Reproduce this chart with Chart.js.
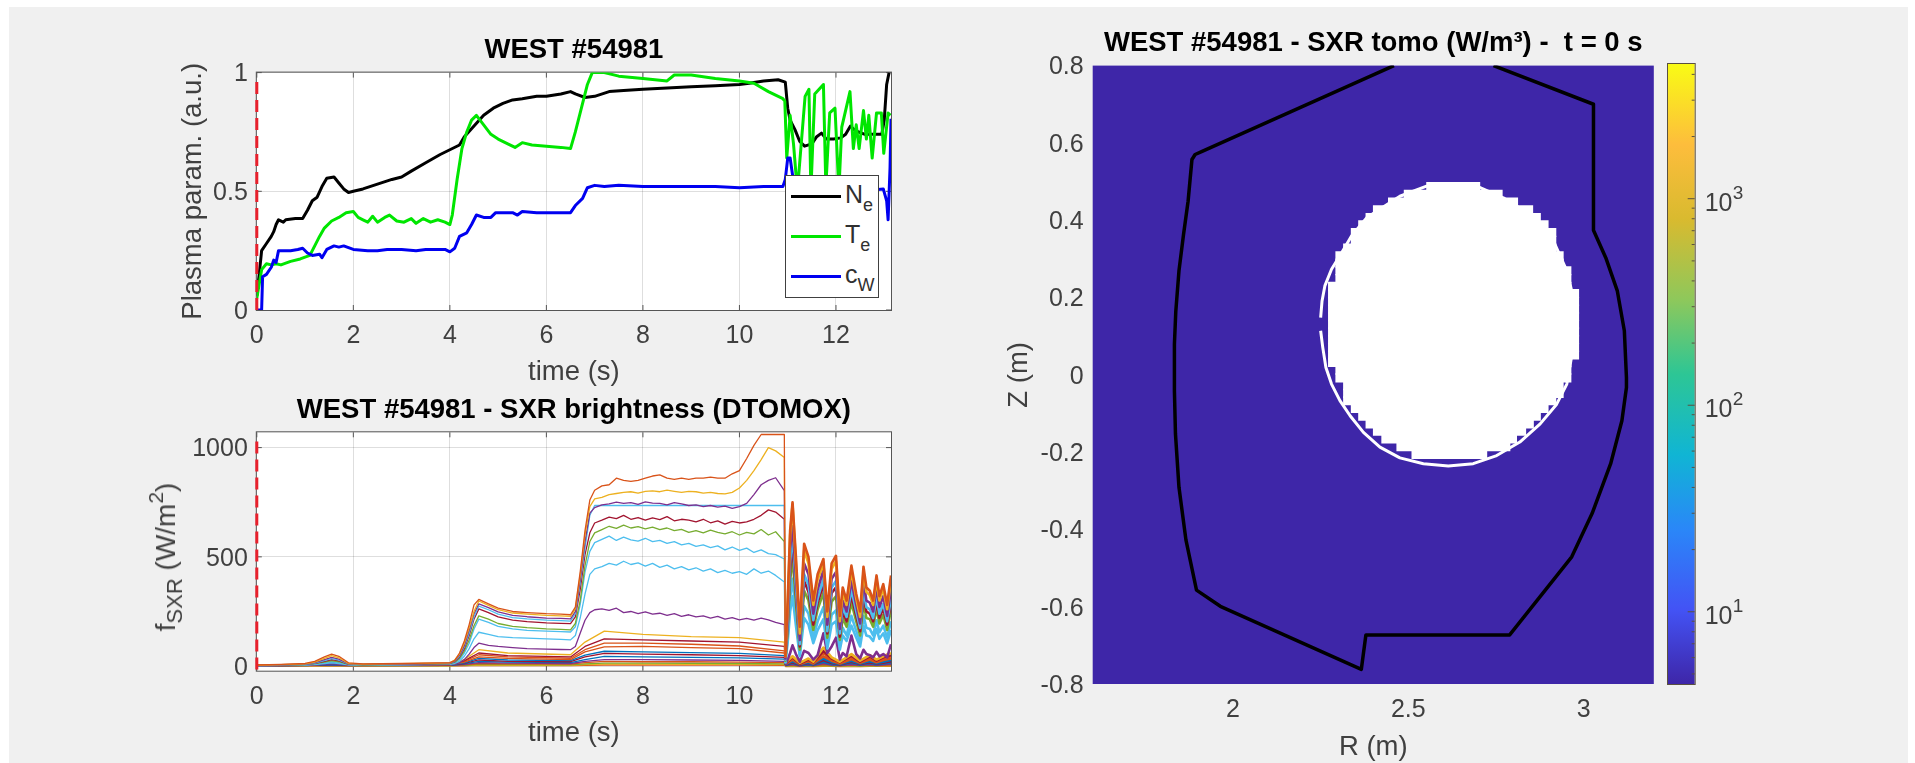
<!DOCTYPE html>
<html>
<head>
<meta charset="utf-8">
<title>WEST #54981</title>
<script src="https://cdn.jsdelivr.net/npm/chart.js@4"></script>
<style>
    html, body { margin: 0; padding: 0; background: #fff; overflow: hidden; }
    #figure { position: absolute; left: 9px; top: 7px; width: 1899px; height: 756px; background: #f0f0f0; }
    canvas { position: absolute; }
    #legend { position: absolute; left: 785px; top: 175px; width: 92px; height: 121px; background: #fff; border: 1px solid #404040;
              font: 25px "Liberation Sans", sans-serif; color: #303030; }
    #legend .swatch { position: absolute; left: 5px; width: 50px; height: 3px; }
    #legend .name { position: absolute; left: 59px; line-height: 28px; white-space: nowrap; }
    #legend sub { font-size: 18px; line-height: 0; vertical-align: -8px; }
    #sxrLabel { position: absolute; left: 166px; top: 557px; transform: translate(-50%, -50%) rotate(-90deg); white-space: nowrap;
                font: 28px "Liberation Sans", sans-serif; color: #404040; }
    #sxrLabel sub { font-size: 22px; line-height: 0; vertical-align: -7px; }
    #sxrLabel sup { font-size: 21px; line-height: 0; vertical-align: 12px; }
</style>
</head>
<body>
<div id="figure"></div>
<canvas id="paramChart" width="733" height="355" style="left:177px;top:34px"></canvas>
<canvas id="sxrChart" width="733" height="356" style="left:177px;top:394px"></canvas>
<canvas id="tomoChart" width="657" height="737" style="left:1003px;top:27px"></canvas>
<canvas id="colorbarChart" width="130" height="680" style="left:1660px;top:34px"></canvas>
<div id="legend"></div>
<div id="sxrLabel">f<sub>SXR</sub> (W/m<sup>2</sup>)</div>

<script>
// Tick labels
const timeTicks = [0, 2, 4, 6, 8, 10, 12];
const paramTicks = [0, 0.5, 1];
const sxrTicks = [0, 500, 1000];
const rTicks = [2, 2.5, 3];
const zTicks = [-0.8, -0.6, -0.4, -0.2, 0, 0.2, 0.4, 0.6, 0.8];
const colorbarTicks = [5, 6, 7, 8, 9, 10, 20, 30, 40, 50, 60, 70, 80, 90, 100, 200, 300, 400, 500, 600, 700, 800, 900, 1000, 2000, 3000, 4000];
const colorbarExponents = { 10: '1', 100: '2', 1000: '3' };

// Plasma parameters (a.u.)
const neTime = [0, 0.05, 0.1, 0.2, 0.3, 0.35, 0.4, 0.45, 0.55, 0.6, 0.8, 0.95, 1.05, 1.15, 1.25, 1.35, 1.45, 1.6, 1.7, 1.8, 1.9, 2, 2.2, 2.5, 2.8, 3, 3.2, 3.5, 3.8, 4, 4.2, 4.3, 4.5, 4.7, 4.9, 5.1, 5.3, 5.5, 5.8, 6, 6.3, 6.5, 6.6, 6.8, 7, 7.3, 7.6, 8, 8.5, 9, 9.5, 10, 10.2, 10.5, 10.8, 10.95, 11, 11.05, 11.15, 11.25, 11.35, 11.5, 11.6, 11.7, 11.8, 11.95, 12.1, 12.2, 12.3, 12.4, 12.6, 12.8, 12.95, 13, 13.05, 13.1];
const neValues = [0.06, 0.15, 0.25, 0.28, 0.31, 0.33, 0.36, 0.38, 0.37, 0.38, 0.385, 0.385, 0.42, 0.46, 0.475, 0.52, 0.555, 0.56, 0.535, 0.51, 0.495, 0.5, 0.51, 0.53, 0.55, 0.56, 0.585, 0.62, 0.655, 0.675, 0.695, 0.73, 0.775, 0.82, 0.85, 0.87, 0.885, 0.89, 0.9, 0.9, 0.91, 0.92, 0.91, 0.895, 0.9, 0.92, 0.925, 0.93, 0.935, 0.94, 0.945, 0.95, 0.955, 0.965, 0.97, 0.96, 0.85, 0.8, 0.76, 0.71, 0.69, 0.7, 0.73, 0.745, 0.72, 0.72, 0.725, 0.74, 0.775, 0.755, 0.74, 0.74, 0.74, 0.8, 0.95, 1];
const teTime = [0, 0.1, 0.2, 0.3, 0.4, 0.5, 0.7, 0.9, 1.1, 1.2, 1.3, 1.4, 1.55, 1.7, 1.85, 2, 2.1, 2.2, 2.3, 2.4, 2.5, 2.65, 2.75, 2.9, 3.05, 3.2, 3.3, 3.45, 3.6, 3.75, 3.9, 4, 4.05, 4.15, 4.25, 4.35, 4.45, 4.55, 4.7, 4.85, 5, 5.2, 5.35, 5.5, 5.7, 6, 6.3, 6.5, 6.6, 6.75, 6.85, 6.95, 7.2, 7.5, 8, 8.5, 8.65, 9, 9.5, 10, 10.3, 10.6, 10.9, 10.94, 10.98, 11.05, 11.12, 11.2, 11.36, 11.44, 11.48, 11.56, 11.74, 11.79, 11.87, 11.98, 12.06, 12.12, 12.29, 12.36, 12.42, 12.48, 12.57, 12.63, 12.68, 12.75, 12.84, 12.94, 12.99, 13.08, 13.13];
const teValues = [0.05, 0.17, 0.195, 0.19, 0.195, 0.19, 0.205, 0.215, 0.23, 0.27, 0.31, 0.345, 0.375, 0.39, 0.41, 0.415, 0.39, 0.38, 0.37, 0.395, 0.37, 0.39, 0.4, 0.375, 0.37, 0.385, 0.365, 0.385, 0.37, 0.38, 0.37, 0.36, 0.4, 0.55, 0.68, 0.75, 0.8, 0.82, 0.78, 0.74, 0.72, 0.7, 0.685, 0.705, 0.695, 0.69, 0.685, 0.68, 0.75, 0.87, 0.95, 1, 1, 0.985, 0.975, 0.965, 0.99, 0.99, 0.975, 0.965, 0.955, 0.92, 0.89, 0.88, 0.64, 0.82, 0.7, 0.5, 0.9, 0.93, 0.5, 0.91, 0.95, 0.52, 0.83, 0.85, 0.5, 0.77, 0.92, 0.68, 0.78, 0.68, 0.84, 0.72, 0.82, 0.64, 0.83, 0.83, 0.66, 0.83, 0.82];
const cwTime = [0, 0.05, 0.1, 0.12, 0.2, 0.3, 0.35, 0.4, 0.45, 0.55, 0.7, 0.85, 0.95, 1.05, 1.15, 1.3, 1.35, 1.45, 1.6, 1.7, 1.8, 2, 2.3, 2.5, 2.7, 3, 3.3, 3.5, 3.9, 4, 4.1, 4.2, 4.35, 4.45, 4.55, 4.7, 4.85, 4.95, 5.3, 5.4, 5.5, 5.8, 6.2, 6.5, 6.6, 6.75, 6.85, 7, 7.2, 7.5, 8, 8.5, 9, 9.5, 10, 10.5, 10.9, 10.95, 11, 11.05, 11.12, 11.5, 12.5, 12.98, 13.05, 13.08, 13.12, 13.14];
const cwValues = [0, 0, 0, 0.14, 0.15, 0.18, 0.21, 0.2, 0.25, 0.25, 0.25, 0.255, 0.26, 0.24, 0.23, 0.235, 0.22, 0.255, 0.27, 0.265, 0.27, 0.255, 0.25, 0.25, 0.255, 0.255, 0.25, 0.255, 0.255, 0.245, 0.26, 0.31, 0.325, 0.36, 0.4, 0.39, 0.39, 0.41, 0.41, 0.4, 0.415, 0.41, 0.41, 0.41, 0.44, 0.47, 0.515, 0.525, 0.52, 0.525, 0.52, 0.52, 0.52, 0.52, 0.515, 0.52, 0.52, 0.55, 0.64, 0.64, 0.54, 0.5, 0.5, 0.51, 0.46, 0.38, 0.6, 0.806];
const markerTime = [0, 0];
const markerParam = [0, 0.975];
const markerSxr = [-15, 1040];

// SXR brightness channels, upper group, sampled on sxrTime
const sxrTime = [0, 0.5, 1, 1.2, 1.4, 1.55, 1.7, 1.9, 2.2, 3, 3.5, 4, 4.1, 4.2, 4.3, 4.4, 4.5, 4.6,
    4.8, 5, 5.3, 5.6, 6, 6.3, 6.5, 6.6, 6.7, 6.8, 6.9, 7,
    7.15, 7.3, 7.45, 7.6, 7.75, 7.9, 8.05, 8.2, 8.35, 8.5, 8.65, 8.8, 8.95, 9.1, 9.25, 9.4, 9.55, 9.7, 9.85, 10, 10.15, 10.3, 10.45, 10.6, 10.75, 10.93,
    10.95, 11, 11.05, 11.1, 11.17, 11.25, 11.34, 11.43, 11.53, 11.62, 11.74, 11.82, 11.91, 12, 12.08, 12.14, 12.22, 12.32, 12.42, 12.5, 12.57, 12.63, 12.7, 12.77, 12.84, 12.9, 12.98, 13.06, 13.14];
const sxrA = [5, 8, 12, 22, 42, 55, 45, 15, 10, 12, 14, 16, 25, 60, 115, 190, 280, 305,
    285, 265, 250, 245, 240, 238, 235, 270, 430, 620, 760, 805,
    825, 830, 860, 850, 845, 850, 860, 870, 875, 860, 855, 860, 855, 860, 860, 865, 860, 860, 880, 895, 950, 1010, 1060, 1060, 1060, 1060,
    40, 300, 620, 750, 500, 180, 560, 500, 300, 420, 490, 250, 470, 505, 230, 360, 300, 460, 330, 250, 455, 360, 345, 300, 415, 320, 375, 280, 415];
const sxrB = [4, 7, 10, 18, 35, 48, 38, 12, 9, 11, 13, 15, 28, 55, 105, 175, 250, 298,
    278, 258, 243, 238, 232, 230, 228, 262, 415, 600, 730, 765,
    772, 785, 790, 795, 798, 792, 800, 802, 798, 805, 800, 795, 800, 798, 792, 795, 790, 788, 795, 815, 850, 895, 945, 1000, 985, 955,
    40, 280, 600, 740, 470, 150, 530, 470, 280, 395, 470, 225, 445, 480, 205, 335, 280, 435, 310, 225, 430, 340, 325, 280, 395, 300, 355, 260, 395];
const sxrC = [4, 7, 9, 16, 30, 40, 32, 11, 8, 10, 12, 14, 25, 50, 95, 165, 240, 285,
    268, 248, 232, 226, 220, 218, 216, 250, 395, 570, 700, 725,
    738, 742, 750, 745, 748, 740, 752, 746, 745, 738, 748, 742, 735, 738, 730, 735, 728, 732, 722, 730, 745, 785, 830, 850, 862, 803,
    30, 240, 540, 640, 410, 120, 470, 420, 240, 350, 440, 190, 400, 430, 170, 300, 250, 390, 280, 195, 390, 300, 290, 250, 360, 270, 320, 230, 350];
const sxrD = [3, 6, 8, 14, 25, 34, 27, 10, 8, 9, 11, 13, 22, 46, 88, 150, 225, 275,
    258, 238, 222, 216, 210, 208, 206, 240, 380, 540, 690, 735,
    735, 735, 735, 735, 735, 735, 735, 735, 735, 735, 735, 735, 735, 735, 735, 735, 735, 735, 735, 735, 735, 735, 735, 735, 735, 735,
    25, 210, 480, 600, 360, 100, 420, 370, 210, 310, 400, 160, 360, 390, 150, 270, 225, 350, 250, 175, 350, 270, 260, 220, 320, 240, 285, 205, 310];
const sxrE = [3, 5, 8, 13, 22, 30, 24, 9, 7, 9, 10, 12, 20, 42, 80, 140, 215, 262,
    245, 225, 210, 204, 198, 196, 194, 225, 350, 510, 610, 655,
    668, 682, 675, 690, 672, 680, 668, 678, 670, 684, 665, 672, 668, 660, 672, 656, 665, 650, 662, 655, 660, 672, 690, 715, 705, 672,
    25, 190, 440, 560, 330, 90, 390, 340, 190, 290, 375, 150, 335, 360, 135, 250, 205, 325, 230, 160, 325, 250, 240, 205, 295, 220, 265, 190, 290];
const sxrF = [3, 5, 7, 11, 18, 25, 20, 8, 6, 8, 9, 11, 18, 36, 70, 120, 185, 230,
    215, 195, 182, 176, 170, 168, 166, 195, 300, 460, 570, 610,
    625, 640, 630, 645, 632, 638, 628, 636, 625, 632, 620, 626, 612, 620, 610, 622, 612, 605, 615, 600, 612, 605, 625, 600, 615, 570,
    20, 170, 390, 500, 290, 75, 345, 300, 165, 260, 335, 130, 295, 320, 120, 220, 180, 290, 205, 140, 290, 220, 215, 180, 265, 195, 235, 165, 260];
const sxrG = [2, 4, 6, 9, 15, 20, 16, 7, 5, 7, 8, 10, 15, 30, 60, 105, 170, 215,
    200, 182, 170, 164, 160, 158, 156, 180, 280, 430, 525, 565,
    580, 595, 575, 590, 578, 572, 585, 570, 575, 562, 570, 555, 562, 548, 555, 542, 550, 532, 545, 530, 540, 520, 532, 515, 510, 490,
    15, 140, 310, 400, 230, 55, 275, 240, 130, 205, 270, 100, 235, 255, 90, 175, 140, 230, 160, 110, 230, 175, 170, 140, 210, 155, 185, 130, 205];
const sxrH = [2, 3, 5, 7, 12, 15, 12, 6, 4, 6, 7, 8, 12, 22, 45, 80, 125, 155,
    145, 135, 130, 128, 125, 122, 120, 140, 220, 330, 420, 445,
    455, 470, 462, 480, 465, 472, 458, 470, 452, 462, 445, 455, 440, 450, 435, 445, 428, 438, 425, 432, 420, 445, 425, 435, 415, 385,
    12, 110, 250, 320, 185, 45, 220, 190, 105, 165, 215, 80, 190, 205, 75, 140, 115, 185, 130, 90, 185, 140, 135, 115, 170, 125, 150, 105, 165];
const sxrI = [1, 3, 4, 6, 9, 12, 9, 5, 3, 5, 6, 7, 10, 15, 30, 55, 85, 105,
    95, 90, 85, 80, 78, 76, 75, 90, 150, 210, 245, 258,
    262, 255, 265, 245, 250, 240, 248, 238, 242, 232, 240, 228, 235, 225, 230, 220, 228, 215, 222, 212, 218, 210, 220, 212, 200, 190,
    8, 30, 60, 95, 55, 20, 70, 60, 30, 50, 150, 60, 90, 130, 30, 60, 45, 140, 55, 35, 75, 55, 50, 40, 65, 45, 55, 40, 100];

// SXR brightness channels, lower group, sampled on sxrLowTime
const sxrLowTime = [0, 1.2, 1.55, 1.9, 4, 4.3, 4.6, 5.2, 6.5, 6.8, 7.2, 8, 9, 10, 10.93, 10.95, 11.1, 11.25, 11.43, 11.53, 11.74, 11.91, 12.08, 12.32, 12.5, 12.7, 12.84, 12.98, 13.14];
const sxrJ = [3, 8, 25, 6, 8, 30, 75, 60, 52, 110, 160, 145, 135, 130, 110, 15, 45, 15, 35, 20, 85, 40, 20, 55, 25, 50, 30, 45, 60];
const sxrK = [3, 6, 20, 5, 7, 25, 60, 48, 42, 90, 125, 120, 115, 110, 90, 12, 40, 12, 30, 18, 70, 35, 18, 48, 20, 45, 25, 40, 50];
const sxrL = [3, 6, 18, 5, 6, 22, 52, 42, 36, 75, 105, 105, 100, 92, 70, 10, 40, 12, 28, 15, 60, 30, 15, 42, 20, 40, 22, 35, 45];
const sxrM = [2, 5, 15, 4, 6, 18, 42, 35, 30, 65, 88, 90, 85, 80, 60, 9, 30, 10, 22, 12, 45, 25, 12, 32, 15, 30, 18, 28, 35];
const sxrN = [2, 4, 10, 4, 5, 15, 35, 28, 25, 50, 68, 65, 62, 58, 48, 8, 22, 8, 18, 10, 35, 18, 10, 25, 12, 22, 14, 20, 28];
const sxrO = [2, 4, 8, 3, 5, 12, 28, 22, 20, 42, 58, 55, 52, 48, 40, 7, 18, 6, 14, 8, 28, 14, 8, 20, 10, 18, 12, 16, 22];
const sxrP = [2, 3, 6, 3, 4, 10, 22, 18, 16, 30, 45, 42, 40, 38, 32, 6, 14, 5, 10, 6, 20, 10, 6, 15, 8, 14, 9, 12, 18];
const sxrQ = [1, 3, 5, 2, 4, 8, 16, 14, 12, 22, 30, 30, 28, 26, 22, 5, 10, 4, 8, 5, 14, 8, 5, 10, 6, 10, 7, 9, 12];
const sxrR = [1, 2, 4, 2, 3, 6, 12, 10, 9, 16, 22, 20, 20, 18, 16, 4, 8, 3, 6, 4, 10, 6, 4, 8, 5, 8, 5, 7, 9];
const sxrS = [1, 2, 3, 1, 2, 4, 8, 7, 6, 10, 14, 14, 13, 12, 10, 3, 5, 2, 4, 3, 7, 4, 3, 5, 3, 5, 4, 5, 6];
const sxrT = [0, 1, 2, 1, 1, 3, 5, 4, 4, 7, 9, 9, 8, 8, 7, 2, 3, 2, 3, 2, 4, 3, 2, 3, 2, 3, 3, 3, 4];
const sxrU = [0, 1, 1, 0, 1, 1, 3, 2, 2, 4, 5, 5, 5, 5, 4, 1, 2, 1, 2, 1, 2, 2, 1, 2, 1, 2, 2, 2, 2];

// Tomography: first wall, last closed surface, and the rows of empty (NaN) cells
const wallR = [2.459, 1.912, 1.892, 1.883, 1.872, 1.859, 1.846, 1.837, 1.833, 1.833, 1.836, 1.846, 1.866, 1.896, 1.964, 2.366, 2.379, 2.789, 2.966, 3.024, 3.077, 3.109, 3.122, 3.122, 3.116, 3.096, 3.063, 3.028, 3.028, 2.743];
const wallZ = [0.8, 0.578, 0.57, 0.557, 0.449, 0.363, 0.269, 0.165, 0.079, -0.041, -0.153, -0.291, -0.428, -0.557, -0.599, -0.762, -0.673, -0.673, -0.471, -0.359, -0.23, -0.119, -0.033, -0.007, 0.114, 0.217, 0.303, 0.374, 0.7, 0.8];
const ringR = [2.25, 2.256, 2.265, 2.281, 2.305, 2.334, 2.372, 2.419, 2.476, 2.543, 2.614, 2.685, 2.752, 2.818, 2.876, 2.923, 2.952, 2.975, 2.975, 2.952, 2.914, 2.847, 2.771, 2.695, 2.619, 2.552, 2.476, 2.381, 2.338, 2.31, 2.281, 2.262, 2.254, 2.25];
const ringZ = [0.114, 0.071, 0.019, -0.024, -0.067, -0.106, -0.149, -0.187, -0.215, -0.23, -0.236, -0.23, -0.209, -0.174, -0.127, -0.076, -0.024, 0.096, 0.183, 0.269, 0.346, 0.415, 0.458, 0.488, 0.492, 0.488, 0.462, 0.406, 0.359, 0.316, 0.273, 0.23, 0.191, 0.148];
const rowZ = [0.487, 0.467, 0.447, 0.427, 0.407, 0.388, 0.368, 0.348, 0.328, 0.308, 0.289, 0.269, 0.249, 0.229, 0.21, 0.19, 0.17, 0.15, 0.13, 0.111, 0.091, 0.071, 0.051, 0.032, 0.012, -0.008, -0.028, -0.048, -0.067, -0.087, -0.107, -0.127, -0.146, -0.166, -0.186, -0.206];
const rowLeft = [2.552, 2.488, 2.443, 2.4, 2.379, 2.358, 2.337, 2.337, 2.315, 2.293, 2.293, 2.293, 2.293, 2.272, 2.272, 2.272, 2.272, 2.272, 2.272, 2.272, 2.272, 2.272, 2.272, 2.272, 2.293, 2.293, 2.315, 2.315, 2.315, 2.337, 2.358, 2.379, 2.4, 2.424, 2.467, 2.51];
const rowRight = [2.704, 2.768, 2.812, 2.855, 2.877, 2.899, 2.921, 2.921, 2.921, 2.942, 2.942, 2.964, 2.964, 2.964, 2.986, 2.986, 2.986, 2.986, 2.986, 2.986, 2.986, 2.986, 2.986, 2.964, 2.964, 2.964, 2.942, 2.942, 2.921, 2.899, 2.877, 2.857, 2.835, 2.809, 2.79, 2.724];
const colorRange = [4.47, 4490];

const FONT = '"Liberation Sans", sans-serif';
Chart.defaults.font.family = FONT;
Chart.defaults.color = '#404040';
Chart.defaults.animation = false;
Chart.defaults.responsive = false;

const xy = (xs, ys) => ys.map((y, i) => ({ x: xs[i], y: y }));

// Plot background and the Matlab style box with inward ticks
const axesBox = {
    id: 'axesBox',
    beforeDraw(chart, args, opts) {
        const a = chart.chartArea;
        chart.ctx.save();
        chart.ctx.fillStyle = opts.background || 'transparent';
        chart.ctx.fillRect(a.left, a.top, a.width, a.height);
        chart.ctx.restore();
    },
    beforeDatasetsDraw(chart, args, opts) {
        if (!opts.ticks) return;
        const a = chart.chartArea, ctx = chart.ctx;
        ctx.save();
        ctx.strokeStyle = opts.boxColor;
        ctx.lineWidth = 1;
        ctx.strokeRect(a.left - 0.5, a.top - 0.5, a.width + 1, a.height + 1);
        ctx.beginPath();
        chart.scales.x.ticks.forEach(t => {
            const p = chart.scales.x.getPixelForValue(t.value);
            ctx.moveTo(p, a.bottom); ctx.lineTo(p, a.bottom - 5);
            ctx.moveTo(p, a.top); ctx.lineTo(p, a.top + 5);
        });
        chart.scales.y.ticks.forEach(t => {
            const p = chart.scales.y.getPixelForValue(t.value);
            ctx.moveTo(a.left, p); ctx.lineTo(a.left + 5, p);
            ctx.moveTo(a.right, p); ctx.lineTo(a.right - 5, p);
        });
        ctx.stroke();
        ctx.restore();
    },
    afterDraw(chart, args, opts) {
        if (!opts.colorbar) return;
        const a = chart.chartArea, ctx = chart.ctx;
        ctx.save();
        ctx.strokeStyle = opts.boxColor;
        ctx.lineWidth = 1;
        ctx.strokeRect(a.left - 0.5, a.top - 0.5, a.width + 1, a.height + 1);
        ctx.beginPath();
        ctx.fillStyle = '#404040';
        ctx.font = '19px ' + FONT;
        ctx.textBaseline = 'middle';
        chart.scales.y.ticks.forEach(t => {
            const p = chart.scales.y.getPixelForValue(t.value);
            const exponent = colorbarExponents[t.value];
            ctx.moveTo(a.right, p);
            ctx.lineTo(a.right - (exponent ? 7 : 3), p);
            if (exponent) ctx.fillText(exponent, a.right + 38, p - 5);
        });
        ctx.stroke();
        ctx.restore();
    }
};
Chart.register(axesBox);

function timeAxis(height) {
    return {
        type: 'linear', min: 0, max: 13.14,
        afterBuildTicks: s => { s.ticks = timeTicks.map(v => ({ value: v })); },
        afterFit: s => { s.height = height; },
        grid: { color: 'rgba(0,0,0,0.13)', drawTicks: false },
        border: { display: false },
        ticks: { font: { size: 25 }, padding: 11, maxRotation: 0, autoSkip: false, callback: v => String(v) },
        title: { display: true, text: 'time (s)', font: { size: 27.5 }, padding: 0, color: '#404040' }
    };
}

function valueAxis(min, max, tickList, width, titleText) {
    return {
        type: 'linear', min: min, max: max,
        afterBuildTicks: s => { s.ticks = tickList.map(v => ({ value: v })); },
        afterFit: s => { s.width = width; },
        grid: { color: 'rgba(0,0,0,0.13)', drawTicks: false },
        border: { display: false },
        ticks: { font: { size: 25 }, padding: 9, labelOffset: 2, autoSkip: false, callback: v => String(v) },
        title: { display: !!titleText, text: titleText, font: { size: 27.5 }, padding: 0, color: '#404040' }
    };
}

function figureTitle(text, bottomPad) {
    return { display: true, fullSize: false, text: text, color: '#000', font: { size: 27.5, weight: 'bold' }, padding: { top: 0, bottom: bottomPad } };
}

const line = (label, data, color, width, order) => ({
    label: label, data: data, borderColor: color, backgroundColor: color, borderWidth: width,
    pointRadius: 0, tension: 0, order: order, borderJoinStyle: 'round'
});
const marker = ys => Object.assign(line('t', xy(markerTime, ys), '#e8202c', 3, 0), { borderDash: [12, 6], clip: false });

// Plasma parameters
const paramSeries = [
    { name: 'N<sub>e</sub>', time: neTime, values: neValues, color: '#000000' },
    { name: 'T<sub>e</sub>', time: teTime, values: teValues, color: '#00e600' },
    { name: 'c<sub>W</sub>', time: cwTime, values: cwValues, color: '#0000f0' }
];
new Chart(document.getElementById('paramChart'), {
    type: 'line',
    data: {
        datasets: [marker(markerParam)].concat(paramSeries.map((s, i) => line(s.name, xy(s.time, s.values), s.color, 3, 3 - i)))
    },
    options: {
        layout: { padding: { right: 19 } },
        scales: { x: timeAxis(79), y: valueAxis(0, 1, paramTicks, 79.8, 'Plasma param. (a.u.)') },
        plugins: {
            legend: { display: false }, tooltip: { enabled: false },
            title: figureTitle('WEST #54981', 5.6),
            axesBox: { background: '#fff', boxColor: '#555', ticks: true }
        }
    }
});

// Legend is html because the names have subscripts
const legendBox = document.getElementById('legend');
paramSeries.forEach((s, i) => {
    const top = 19 + i * 40;
    legendBox.innerHTML += `<div class="swatch" style="top:${top}px;background:${s.color}"></div>` +
        `<div class="name" style="top:${top - 15}px">${s.name}</div>`;
});

// SXR brightness, colours follow the Matlab line order
const sxrBlue = '#0072bd', sxrRed = '#d95319', sxrYellow = '#edb120', sxrPurple = '#7e2f8e', sxrGreen = '#77ac30', sxrCyan = '#4dbeee', sxrWine = '#a2142f';
const upperChannels = [
    [sxrA, sxrRed], [sxrB, sxrYellow], [sxrC, sxrPurple], [sxrD, sxrCyan], [sxrE, sxrWine],
    [sxrF, sxrGreen], [sxrG, sxrCyan], [sxrH, sxrCyan], [sxrI, sxrPurple]
];
const lowerChannels = [
    [sxrJ, sxrYellow], [sxrK, sxrWine], [sxrL, sxrRed], [sxrM, sxrRed], [sxrN, sxrBlue], [sxrO, sxrWine],
    [sxrP, sxrBlue], [sxrQ, sxrPurple], [sxrR, sxrRed], [sxrS, sxrGreen], [sxrT, sxrYellow], [sxrU, sxrRed]
];
// The traces look thicker after the collapse at 11 s
const sxrSegment = { borderWidth: ctx => (ctx.p0.parsed.x >= 10.95 ? 2.6 : 1.3) };
const sxrLine = (label, time, c, order) => Object.assign(line(label, xy(time, c[0]), c[1], 1.3, order), { segment: sxrSegment });
new Chart(document.getElementById('sxrChart'), {
    type: 'line',
    data: {
        datasets: [marker(markerSxr)]
            .concat(upperChannels.map((c, i) => sxrLine('ch' + i, sxrTime, c, i + 1)))
            .concat(lowerChannels.map((c, i) => sxrLine('low' + i, sxrLowTime, c, i + 20)))
    },
    options: {
        layout: { padding: { right: 19 } },
        scales: { x: timeAxis(79.3), y: valueAxis(-21, 1070, sxrTicks, 79.8, '') },
        plugins: {
            legend: { display: false }, tooltip: { enabled: false },
            title: figureTitle('WEST #54981 - SXR brightness (DTOMOX)', 5.3),
            axesBox: { background: '#fff', boxColor: '#555', ticks: true }
        }
    }
});

// Tomography map
new Chart(document.getElementById('tomoChart'), {
    type: 'bar',
    data: {
        datasets: [
            Object.assign(line('wall', xy(wallR, wallZ), '#000', 3.5, 0), { type: 'line' }),
            Object.assign(line('ring', xy(ringR, ringZ), '#fff', 3, 1), { type: 'line' }),
            {
                type: 'bar', indexAxis: 'y', label: 'empty cells', order: 2,
                data: rowZ.map((z, i) => ({ y: z, x: [rowLeft[i], rowRight[i]] })),
                backgroundColor: '#fff', borderWidth: 0, barThickness: 8.4
            }
        ]
    },
    options: {
        layout: { padding: { right: 6.2 } },
        scales: {
            x: {
                type: 'linear', min: 1.6, max: 3.2, offset: false,
                afterBuildTicks: s => { s.ticks = rTicks.map(v => ({ value: v })); },
                afterFit: s => { s.height = 80; },
                grid: { display: false, drawTicks: false, offset: false }, border: { display: false },
                ticks: { font: { size: 25 }, padding: 11, maxRotation: 0, autoSkip: false, callback: v => String(v) },
                title: { display: true, text: 'R (m)', font: { size: 27.5 }, padding: 0, color: '#404040' }
            },
            y: {
                type: 'linear', min: -0.8, max: 0.8, offset: false,
                afterBuildTicks: s => { s.ticks = zTicks.map(v => ({ value: v })); },
                afterFit: s => { s.width = 89.7; },
                grid: { display: false, drawTicks: false, offset: false }, border: { display: false },
                ticks: { font: { size: 25 }, padding: 9, labelOffset: 2, autoSkip: false, callback: v => String(v) },
                title: { display: true, text: 'Z (m)', font: { size: 27.5 }, padding: 0, color: '#404040' }
            }
        },
        plugins: {
            legend: { display: false }, tooltip: { enabled: false },
            title: figureTitle('WEST #54981 - SXR tomo (W/m³) -  t = 0 s', 5.6),
            axesBox: { background: '#3e26a8' }
        }
    }
});

// Colorbar: one floating bar over the whole colour range, log axis on the right
const parulaStops = [[0, '#3e26a8'], [0.12, '#4353f5'], [0.25, '#2a87f8'], [0.37, '#10b5d4'], [0.5, '#2dc695'], [0.62, '#8ec85b'], [0.75, '#d9ba2f'], [0.87, '#fdbd3c'], [1, '#f9fb15']];
new Chart(document.getElementById('colorbarChart'), {
    type: 'bar',
    data: {
        labels: [''],
        datasets: [{
            data: [colorRange],
            barPercentage: 1, categoryPercentage: 1, borderWidth: 0,
            backgroundColor: ctx => {
                const a = ctx.chart.chartArea;
                if (!a) return '#3e26a8';
                const g = ctx.chart.ctx.createLinearGradient(0, a.bottom, 0, a.top);
                parulaStops.forEach(s => g.addColorStop(s[0], s[1]));
                return g;
            }
        }]
    },
    options: {
        layout: { padding: { left: 8, top: 30, bottom: 30 } },
        scales: {
            x: { display: false },
            y: {
                type: 'logarithmic', position: 'right', min: colorRange[0], max: colorRange[1],
                afterBuildTicks: s => { s.ticks = colorbarTicks.map(v => ({ value: v })); },
                afterFit: s => { s.width = 95.3; },
                grid: { display: false, drawTicks: false }, border: { display: false },
                ticks: { font: { size: 25 }, padding: 10, labelOffset: 5, autoSkip: false, callback: v => (colorbarExponents[v] ? '10' : '') }
            }
        },
        plugins: {
            legend: { display: false }, tooltip: { enabled: false },
            axesBox: { boxColor: '#5a5040', colorbar: true }
        }
    }
});
</script>
</body>
</html>
